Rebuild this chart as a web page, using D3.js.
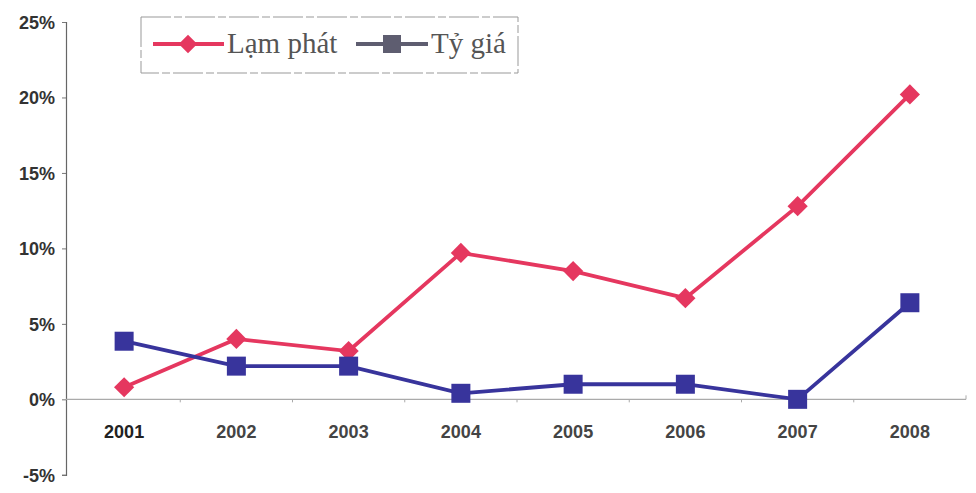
<!DOCTYPE html>
<html>
<head>
<meta charset="utf-8">
<script src="https://cdn.jsdelivr.net/npm/d3@7/dist/d3.min.js"></script>
<style>
  html, body { margin: 0; padding: 0; background: #fff; }
  svg { display: block; }
</style>
</head>
<body>
<svg id="chart" width="976" height="493"></svg>
<script>
// Năm
const years = ["2001", "2002", "2003", "2004", "2005", "2006", "2007", "2008"];
// Lạm phát (%)
const inflation = [0.8, 4.0, 3.2, 9.7, 8.5, 6.7, 12.8, 20.2];
// Tỷ giá (%)
const exchangeRate = [3.85, 2.2, 2.2, 0.4, 1.0, 1.0, 0.0, 6.4];
// Nhãn trục tung
const yTicks = [-5, 0, 5, 10, 15, 20, 25];
const seriesNames = ["Lạm phát", "Tỷ giá"];

const svg = d3.select("#chart");

const x = d3.scaleBand().domain(years).range([68, 966]).padding(0);
const y = d3.scaleLinear().domain([-5, 25]).range([474.8, 22]);
const cx = d => x(d) + x.bandwidth() / 2;

const pink = "#e5375f";
const blue = "#38349c";
const labelFont = "Arial, 'Liberation Sans', sans-serif";
const legendFont = "'Liberation Serif', 'DejaVu Serif', serif";

// Trục tung
const yAxis = d3.axisLeft(y).tickValues(yTicks).tickSize(4).tickPadding(7)
  .tickFormat(d => d + "%");
const gy = svg.append("g").attr("transform", "translate(66,0)").call(yAxis);
gy.select(".domain").attr("stroke", "#666").attr("stroke-width", 1.2);
gy.selectAll(".tick line").attr("stroke", "#777");
gy.selectAll(".tick text")
  .attr("fill", "#333")
  .attr("dy", "0.36em")
  .style("font-family", labelFont)
  .style("font-size", "18px").style("font-weight", "bold");

// Trục hoành tại 0%
svg.append("line")
  .attr("x1", 66).attr("x2", 966)
  .attr("y1", y(0)).attr("y2", y(0))
  .attr("stroke", "#aaa").attr("stroke-width", 1.2);
svg.append("g").selectAll("line")
  .data(years.slice(1))
  .join("line")
  .attr("x1", d => x(d)).attr("x2", d => x(d))
  .attr("y1", y(0)).attr("y2", y(0) + 3)
  .attr("stroke", "#aaa");
svg.append("line")
  .attr("x1", 966).attr("x2", 966)
  .attr("y1", y(0)).attr("y2", y(0) - 4)
  .attr("stroke", "#aaa");

svg.append("g").selectAll("text")
  .data(years)
  .join("text")
  .attr("x", d => cx(d))
  .attr("y", 438)
  .attr("text-anchor", "middle")
  .attr("fill", (d, i) => i === 0 ? "#222" : "#444")
  .style("font-family", labelFont)
  .style("font-size", "18px").style("font-weight", "bold")
  .text(d => d);

const line = d3.line().x((d, i) => cx(years[i])).y(d => y(d));

// Đường Lạm phát
svg.append("path").datum(inflation)
  .attr("d", line).attr("fill", "none")
  .attr("stroke", pink).attr("stroke-width", 3.8);
svg.append("g").selectAll("path")
  .data(inflation)
  .join("path")
  .attr("d", d3.symbol(d3.symbolDiamond2, 260))
  .attr("transform", (d, i) => `translate(${cx(years[i])},${y(d)})`)
  .attr("fill", pink);

// Đường Tỷ giá
svg.append("path").datum(exchangeRate)
  .attr("d", line).attr("fill", "none")
  .attr("stroke", blue).attr("stroke-width", 3.8);
svg.append("g").selectAll("rect")
  .data(exchangeRate)
  .join("rect")
  .attr("x", (d, i) => cx(years[i]) - 9.5)
  .attr("y", d => y(d) - 9.5)
  .attr("width", 19).attr("height", 19)
  .attr("fill", blue);

// Chú giải
const lg = svg.append("g");
lg.append("rect")
  .attr("x", 141).attr("y", 17).attr("width", 377).attr("height", 56)
  .attr("fill", "#fff").attr("stroke", "#999").attr("stroke-width", 1)
  .attr("stroke-dasharray", "30,3,8,3");
const ly = 44;
lg.append("line").attr("x1", 153).attr("x2", 224).attr("y1", ly).attr("y2", ly)
  .attr("stroke", pink).attr("stroke-width", 4);
lg.append("path").attr("d", d3.symbol(d3.symbolDiamond2, 220))
  .attr("transform", `translate(188,${ly})`).attr("fill", pink);
lg.append("text").attr("x", 227).attr("y", 53)
  .attr("fill", "#555")
  .style("font-family", legendFont)
  .style("font-size", "29px")
  .text(seriesNames[0]);

lg.append("line").attr("x1", 356).attr("x2", 428).attr("y1", ly).attr("y2", ly)
  .attr("stroke", "#5e5d70").attr("stroke-width", 4);
lg.append("rect").attr("x", 383).attr("y", ly - 9).attr("width", 18).attr("height", 18)
  .attr("fill", "#5e5d70");
lg.append("text").attr("x", 431).attr("y", 53)
  .attr("fill", "#555")
  .style("font-family", legendFont)
  .style("font-size", "29px")
  .text(seriesNames[1]);
</script>
</body>
</html>
